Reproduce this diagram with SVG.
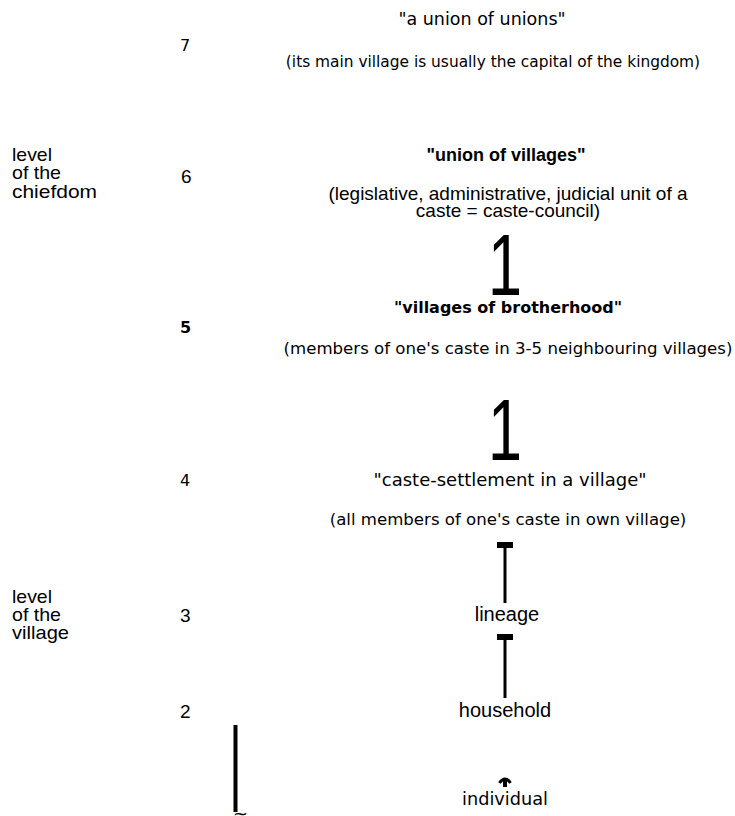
<svg xmlns="http://www.w3.org/2000/svg" width="735" height="816" viewBox="0 0 735 816">
<style>
.t{font-family:"DejaVu Sans","Liberation Sans",sans-serif;font-size:16px;fill:#000}
.b{font-weight:bold}
.n{font-family:"Liberation Sans",sans-serif;font-size:19px;fill:#000}
.c{text-anchor:middle}
.big{font-family:"Liberation Sans",sans-serif;font-size:88px;fill:#000;text-anchor:middle}
.ln{stroke:#000;stroke-width:3;fill:none}
</style>
<rect width="735" height="816" fill="#fff"/>
<g id="level7">
<text class="t c" x="482" y="25" style="font-size:17.5px">"a union of unions"</text>
<text class="t" x="180" y="51">7</text>
<text class="t c" x="493" y="67" style="font-size:15.4px">(its main village is usually the capital of the kingdom)</text>
</g>
<g id="chiefdom-label">
<text class="n" x="12" y="161" textLength="40" lengthAdjust="spacingAndGlyphs">level</text>
<text class="n" x="12" y="179" textLength="49" lengthAdjust="spacingAndGlyphs">of the</text>
<text class="n" x="12" y="198" textLength="85" lengthAdjust="spacingAndGlyphs">chiefdom</text>
</g>
<g id="level6">
<text class="n" x="181" y="183">6</text>
<text class="n b c" x="506" y="161" style="font-size:18px">"union of villages"</text>
<text class="n c" x="508" y="200" style="font-size:19px">(legislative, administrative, judicial unit of a</text>
<text class="n c" x="508" y="217" style="font-size:19px">caste = caste-council)</text>
</g>
<g id="level5">
<text class="t b" x="180" y="333">5</text>
<text class="t b c" x="508" y="313" style="font-size:16px">"villages of brotherhood"</text>
<text class="t c" x="508" y="354" style="font-size:16.6px">(members of one's caste in 3-5 neighbouring villages)</text>
</g>
<g id="level4">
<text class="t" x="180" y="486">4</text>
<text class="t c" x="510" y="486" style="font-size:18px">"caste-settlement in a village"</text>
<text class="t c" x="508" y="525" style="font-size:16.6px">(all members of one's caste in own village)</text>
</g>
<g id="village-label">
<text class="n" x="12" y="603" textLength="40" lengthAdjust="spacingAndGlyphs">level</text>
<text class="n" x="12" y="621" textLength="49" lengthAdjust="spacingAndGlyphs">of the</text>
<text class="n" x="12" y="639" textLength="57" lengthAdjust="spacingAndGlyphs">village</text>
</g>
<g id="level3">
<text class="n" x="180" y="622">3</text>
<text class="n c" x="507" y="621" style="font-size:20px">lineage</text>
</g>
<g id="level2">
<text class="n" x="180" y="718">2</text>
<text class="n c" x="505" y="717" style="font-size:20px">household</text>
</g>
<g id="level1">
<text class="t c" x="505" y="805" style="font-size:17.7px">individual</text>
</g>
<g id="connectors">
<text class="big" x="505" y="295" textLength="34" lengthAdjust="spacingAndGlyphs">1</text>
<text class="big" x="505" y="460" textLength="34" lengthAdjust="spacingAndGlyphs">1</text>
<rect x="497" y="542" width="16" height="6" fill="#000"/>
<line class="ln" x1="505" y1="547" x2="505" y2="603"/>
<rect x="497" y="634" width="16" height="6" fill="#000"/>
<line class="ln" x1="505" y1="639" x2="505" y2="698"/>
<path d="M499.5 783 Q505 775 510.5 783" class="ln" stroke-width="1.5"/>
<rect x="503" y="780" width="4" height="7" fill="#000"/>
<line x1="235.5" y1="725" x2="235.5" y2="812" stroke="#000" stroke-width="4"/>
<text class="t" x="233" y="820" style="font-size:18px">~</text>
</g>
</svg>
